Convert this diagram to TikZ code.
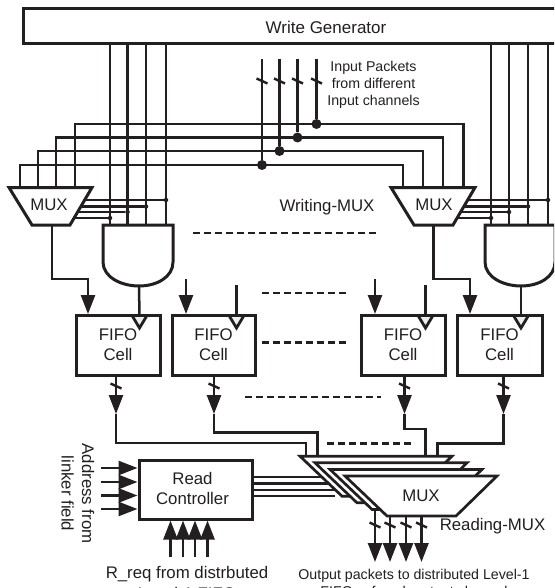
\documentclass[tikz,border=0pt]{standalone}
\usepackage{fontspec}
\setmainfont{Liberation Sans}
\usetikzlibrary{arrows.meta,calc}
\definecolor{ink}{HTML}{231F20}
\definecolor{clk}{HTML}{E8F0F0}
\tikzset{
  x=1pt,y=-1pt,
  wire/.style={draw=ink,line width=2.5pt},
  outline/.style={draw=ink,line width=3pt,fill=white,line join=miter},
  boxnode/.style={outline,inner sep=0pt,align=center,text=ink},
  arr/.style={wire,-{Triangle[length=19pt,width=14pt,color=ink]}},
  label/.style={text=ink,inner sep=0pt,align=center,font=\fontsize{16.8}{20.5}\selectfont},
  small/.style={text=ink,inner sep=0pt,align=center,font=\fontsize{14.2}{17.2}\selectfont},
  dots/.style={draw=ink,line width=2.4pt,dash pattern=on 6.5pt off 4.5pt},
  junction/.style={circle,fill=ink,inner sep=0pt,minimum size=#1},
  clock/.style={draw=ink,line width=2.8pt,fill=clk,line join=miter},
  tick/.style={draw=ink,line width=2.4pt},
}
\newcommand{\slashat}[2]{\draw[tick] ($(#1)+(-5.5,-2.5)$) -- ($(#1)+(5.5,2.5)$);}
\begin{document}
\begin{tikzpicture}
\useasboundingbox (0,0) rectangle (554,588);
\clip (0,0) rectangle (554,588);
\fill[white] (0,0) rectangle (554,588);

% ---- Write generator
\draw[outline] (570,9) -- (23,9) -- (23,44) -- (570,44);
\node[label,font=\fontsize{17}{20}\selectfont] (wg) at (326,27) {Write Generator};

% ---- named pins
\foreach \n/\x/\y in {1/20/165,2/38/151,3/56/137.5,4/75/124}{\coordinate (lm\n) at (\x,187.5); \coordinate (lb\n) at (\x,\y);}
\foreach \n/\x/\y in {1/403/165,2/423/151,3/443/137.5,4/463.5/124}{\coordinate (rm\n) at (\x,187.5); \coordinate (rb\n) at (\x,\y);}
\foreach \n/\x/\y in {1/262/165,2/279.5/151,3/297.5/137.5,4/316.5/124}{\coordinate (in\n) at (\x,59); \node[junction=10pt] (j\n) at (\x,\y) {};}
\foreach \n/\x in {1/110,2/127.5,3/146,4/166}{\coordinate (lvt\n) at (\x,44); \coordinate (lvb\n) at (\x,225);}
\foreach \n/\x in {1/491,2/509,3/528,4/548}{\coordinate (rvt\n) at (\x,44); \coordinate (rvb\n) at (\x,225);}

% ---- vertical buses from the generator
\foreach \n in {1,2,3,4}{
  \draw[wire] (lvt\n) -- (lvb\n);
  \draw[wire] (rvt\n) -- (rvb\n);
}
% ---- horizontal buses and mux inputs
\foreach \n in {1,2,3,4}{
  \draw[wire,line join=miter] (lm\n) |- (rb\n) -- (rm\n);
  \draw[wire] (in\n) -- (j\n);
  \coordinate (sl\n) at ($(in\n)+(0,22)$);
  \slashat{sl\n}
}
\node[small] (inp) at (373.5,85) {Input Packets\\from different\\Input channels};

% ---- MUX (left and right)
\draw[outline] (9,187.5) coordinate (lmA) -- (92,187.5) coordinate (lmB) -- (70,225) coordinate (lmC) -- (32,225) coordinate (lmD) -- cycle;
\node[label] (lmux) at (49,205) {MUX};
\draw[outline] (391,187.5) coordinate (rmA) -- (475,187.5) coordinate (rmB) -- (453,225) coordinate (rmC) -- (414,225) coordinate (rmD) -- cycle;
\node[label] (rmux) at (434,204.5) {MUX};
\node[label] (wm) at (327,207) {Writing-MUX};

% ---- mux to vertical lines
\foreach \n/\sx/\y/\v in {4/85/200/4,3/81/206.5/3,2/77.5/212/2,1/74/218/1}{
  \coordinate (ls\n) at (\sx,\y);
  \node[junction=4.5pt] (ld\n) at (lvb\v |- ls\n) {};
  \draw[wire] (ls\n) -- (ld\n);
  \coordinate (rs\n) at (\sx+383,\y);
  \node[junction=4.5pt] (rd\n) at (rvb\v |- rs\n) {};
  \draw[wire] (rs\n) -- (rd\n);
}

% ---- AND gates
\draw[outline] (103,225) -- (173,225) -- (173,262) .. controls (173,277) and (157,286) .. (139,286) coordinate (la) .. controls (121,286) and (103,277) .. (103,262) -- cycle;
\draw[outline] (485,225) -- (555,225) -- (555,262) .. controls (555,277) and (539,286) .. (521,286) coordinate (ra) .. controls (503,286) and (485,277) .. (485,262) -- cycle;

% ---- FIFO cells
\foreach \n/\cx/\w in {1/118/84,2/213.5/83,3/403/84,4/499.5/85}{
  \node[boxnode,minimum width=\w pt,minimum height=60pt,anchor=center] (f\n) at (\cx,345) {};
  \node[label,anchor=center] (ft\n) at (\cx,344.5) {FIFO\\Cell};
}
% clock triangles and their wires
\coordinate (ck1) at (139.5,328);
\coordinate (ck2) at (236.5,328);
\coordinate (ck3) at (425.5,328);
\coordinate (ck4) at (521,328);
\coordinate (s2) at (236.5,285);
\coordinate (s3) at (425.5,285);
\foreach \n in {1,2,3,4}{
  \draw[clock] ($(ck\n)+(-7.5,-12.5)$) -- ($(ck\n)+(7.5,-12.5)$) -- (ck\n) -- cycle;
}
\draw[wire] (la) -- ($(ck1)+(0,-12)$);
\draw[wire] (s2) -- ($(ck2)+(0,-12)$);
\draw[wire] (s3) -- ($(ck3)+(0,-12)$);
\draw[wire] (ra) -- ($(ck4)+(0,-12)$);
% data arrows into the FIFOs
\coordinate (dl) at (52,225);
\coordinate (dr) at (433.5,225);
\coordinate (d1) at (88,314);
\coordinate (d2) at (186,314);
\coordinate (d3) at (375,314);
\coordinate (d4) at (470,314);
\coordinate (s4) at (186,279);
\coordinate (s5) at (375,279);
\draw[arr] (dl) |- (88,279) -- (d1);
\draw[arr] (dr) |- (470,279) -- (d4);
\draw[arr] (s4) -- (d2);
\draw[arr] (s5) -- (d3);

% ---- FIFO to reading MUX
\coordinate (t1) at (306,456);
\coordinate (t2) at (317.5,456);
\coordinate (t3) at (425.5,456);
\coordinate (t4) at (437.5,456);
\foreach \n/\x/\y in {1/116/443,2/214/432.5,3/404.5/429,4/503.5/443.5}{
  \coordinate (o\n) at (\x,375);
  \coordinate (ot\n) at (\x,386);
  \coordinate (oa\n) at (\x,414);
  \draw[wire,line join=miter] (oa\n) |- (t\n |- 0,\y) -- (t\n);
  \draw[arr] (o\n) -- (oa\n);
  \slashat{ot\n}
}

% ---- Read controller
\node[boxnode,minimum width=113pt,minimum height=59pt] (rc) at (195.5,489.5) {};
\node[label] (rct) at (192.5,488.5) {Read\\Controller};
\foreach \n/\y in {1/477,2/483.5,3/490,4/496}{
  \coordinate (ctl\n) at (335,\y);
  \draw[wire] (rc.east |- ctl\n) -- (ctl\n);
}
\foreach \n/\y in {1/468,2/482,3/495.5,4/509}{
  \coordinate (al\n) at (101,\y);
  \draw[arr] (al\n) -- (rc.west |- al\n);
}
\foreach \n/\x in {1/170.5,2/183,3/195,4/207.5}{
  \coordinate (ab\n) at (\x,557);
  \draw[arr] (ab\n) -- (rc.south -| ab\n);
}

% ---- Reading MUX stack
\foreach \n/\i in {1/3,2/2,3/1,4/0}{
  \draw[outline,line width=2.7pt] (345-15*\i,476-6.6*\i) -- (497-15*\i,476-6.6*\i) -- (456-15*\i,516-6.6*\i) -- (387-15*\i,516-6.6*\i) -- cycle;
}
\node[label] (rdm) at (421,496) {MUX};
\node[label] (rdl) at (492.5,526) {Reading-MUX};
\foreach \n/\x/\y in {1/375/509,2/390/516,3/406/516,4/421.5/516}{
  \coordinate (mo\n) at (\x,\y);
  \coordinate (me\n) at (\x,562);
  \coordinate (mt\n) at (\x,525);
  \draw[arr] (mo\n) -- (me\n);
  \slashat{mt\n}
}

% ---- Dotted continuation lines
\coordinate (a1) at (193,233);   \coordinate (a2) at (376,233);
\coordinate (b1) at (262,293);   \coordinate (b2) at (349,293);
\coordinate (c1) at (262,342.5); \coordinate (c2) at (349,342.5);
\coordinate (e1) at (245,397);   \coordinate (e2) at (381,397);
\coordinate (g1) at (327,443.5); \coordinate (g2) at (414,443.5);
\foreach \n in {a,b,c,e,g}{ \draw[dots] (\n1) -- (\n2); }

% ---- Text
\node[label,rotate=-90] (addr) at (78,493.5) {Address from\\linker field};
\node[label] (rq) at (187,583) {R\_req from distrbuted\\Level-1 FIFO};
\node[small] (op) at (414,584) {Output packets to distributed Level-1\\FIFOs of each output channel};
\end{tikzpicture}
\end{document}
